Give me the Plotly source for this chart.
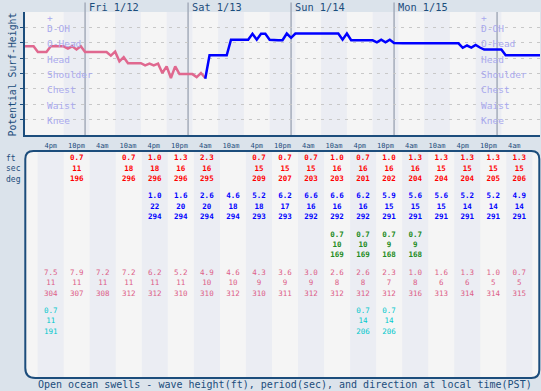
import plotly.graph_objects as go

# ---------------- data ----------------
# hour offsets relative to Fri 1/12 00:00 (PST)
pink_hours = list(range(-14, 29))
pink_surf = [5.77, 5.77, 5.77, 5.40, 5.40, 5.40, 5.77, 5.77, 5.77, 5.77,
             5.62, 5.77, 5.56, 5.77, 5.40, 5.40, 5.40, 5.40, 5.40, 5.40,
             5.16, 5.42, 4.79, 5.06, 4.67, 4.67, 4.67, 4.67, 4.53, 4.64,
             4.53, 4.64, 4.03, 4.46, 3.71, 4.46, 3.96, 3.96, 3.96, 3.96,
             3.77, 4.03, 3.71]
blue_hours = list(range(28, 107))
blue_surf = [3.66, 5.18, 5.18, 5.18, 5.18, 5.18, 6.20, 6.20, 6.20, 6.20,
             6.20, 6.58, 6.20, 6.58, 6.58, 6.20, 6.16, 6.16, 6.16, 6.60,
             6.32, 6.60, 6.60, 6.60, 6.60, 6.60, 6.60, 6.60, 6.60, 6.60,
             6.60, 6.60, 6.20, 6.60, 6.16, 6.16, 6.16, 6.16, 6.16, 6.16,
             6.03, 6.20, 6.03, 6.20, 5.99, 5.96, 5.96, 5.96, 5.96, 5.96,
             5.96, 5.96, 5.96, 5.96, 5.96, 5.96, 5.96, 5.96, 5.96, 5.96,
             5.67, 5.82, 5.69, 5.86, 5.69, 5.56, 5.56, 5.56, 5.56, 5.56,
             5.18, 5.18, 5.18, 5.18, 5.18, 5.18, 5.18, 5.18, 5.18]

surf_levels = [1, 2, 3, 4, 5, 6, 7, 7.7]
surf_names = ["Knee", "Waist", "Chest", "Shoulder", "Head", "O-Head", "D-OH", "+"]

day_hours = [0, 24, 48, 72]
day_labels = ["Fri 1/12", "Sat 1/13", "Sun 1/14", "Mon 1/15"]
extra_midnight = [96]

tick_hours = [-8 + 6 * i for i in range(20)]
tick_labels = ["4pm", "10pm", "4am", "10am"] * 5
tick_labels[-1] = "12"

top_dark_centers = [-2, 10, 22, 34, 46, 58, 70, 82, 94]

# table columns (every 6 h, 4pm Thu .. 4am Tue)
col_hours = [-8 + 6 * i for i in range(19)]
N = None
sw1_ft = [N, 0.7, N, 0.7, 1.0, 1.3, 2.3, N, 0.7, 0.7, 0.7, 1.0, 0.7, 1.0, 1.3, 1.3, 1.3, 1.3, 1.3]
sw1_sec = [N, 11, N, 18, 18, 16, 16, N, 15, 15, 15, 16, 16, 16, 16, 15, 15, 15, 15]
sw1_deg = [N, 196, N, 296, 296, 296, 295, N, 209, 207, 203, 203, 201, 202, 204, 204, 204, 205, 206]

sw2_ft = [N, N, N, N, 1.0, 1.6, 2.6, 4.6, 5.2, 6.2, 6.6, 6.6, 6.2, 5.9, 5.6, 5.6, 5.2, 5.2, 4.9]
sw2_sec = [N, N, N, N, 22, 20, 20, 18, 18, 17, 16, 16, 16, 15, 15, 15, 14, 14, 14]
sw2_deg = [N, N, N, N, 294, 294, 294, 294, 293, 293, 292, 292, 292, 291, 291, 291, 291, 291, 291]

sw3_ft = [N] * 11 + [0.7, 0.7, 0.7, 0.7] + [N] * 4
sw3_sec = [N] * 11 + [10, 10, 9, 9] + [N] * 4
sw3_deg = [N] * 11 + [169, 169, 168, 168] + [N] * 4

sw4_ft = [7.5, 7.9, 7.2, 7.2, 6.2, 5.2, 4.9, 4.6, 4.3, 3.6, 3.0, 2.6, 2.6, 2.3, 1.0, 1.6, 1.3, 1.0, 0.7]
sw4_sec = [11, 11, 11, 11, 11, 11, 10, 10, 9, 9, 9, 8, 8, 7, 8, 6, 6, 5, 5]
sw4_deg = [304, 307, 308, 312, 312, 310, 310, 312, 310, 311, 312, 312, 312, 312, 316, 313, 314, 314, 315]

sw5_ft = [0.7] + [N] * 11 + [0.7, 0.7] + [N] * 5
sw5_sec = [11] + [N] * 11 + [14, 14] + [N] * 5
sw5_deg = [191] + [N] * 11 + [206, 206] + [N] * 5

caption = "Open ocean swells - wave height(ft), period(sec), and direction at local time(PST)"

# ---------------- style / layout ----------------
W, H = 541, 391
ML, MR, MT, MB = 25, 1, 12, 13
PW = W - ML - MR
PH = H - MT - MB


def fx(px):
    return (px - ML) / PW


def fy(py):
    return (H - MB - py) / PH


MONO = "DejaVu Sans Mono"
DB = "#1c4d7c"
PAGE = "#dbe3eb"
LIGHT = "#f5f5f5"
DARK = "#ebedf3"
PINK = "#e0688f"
BLUE = "#0000ff"
LAB = "#a9a9ee"

top_dom = [fy(135), 1]
tab_dom = [0, fy(150)]

fig = go.Figure()

fig.add_trace(go.Scatter(x=pink_hours, y=pink_surf, mode="lines",
                         line=dict(color=PINK, width=2.5), xaxis="x", yaxis="y",
                         hoverinfo="skip"))
fig.add_trace(go.Scatter(x=blue_hours, y=blue_surf, mode="lines",
                         line=dict(color=BLUE, width=2.5), xaxis="x", yaxis="y",
                         hoverinfo="skip"))


def row_y(g, k):
    return 8.3 + 38.2 * g + 10.4 * k


groups = [
    (sw1_ft, sw1_sec, sw1_deg, "#ff0000", "bold"),
    (sw2_ft, sw2_sec, sw2_deg, "#0000ff", "bold"),
    (sw3_ft, sw3_sec, sw3_deg, "#228b22", "bold"),
    (sw4_ft, sw4_sec, sw4_deg, "#dd6088", "normal"),
    (sw5_ft, sw5_sec, sw5_deg, "#00c8cc", "normal"),
]
for g, (ft, sec, deg, col, wt) in enumerate(groups):
    for k, arr in enumerate([ft, sec, deg]):
        xs, ts = [], []
        for h, v in zip(col_hours, arr):
            if v is None:
                continue
            xs.append(h)
            ts.append(f"{v:.1f}" if k == 0 else f"{v:d}")
        fig.add_trace(go.Scatter(x=xs, y=[row_y(g, k)] * len(xs), text=ts, mode="text",
                                 textposition="middle center",
                                 textfont=dict(family=MONO, size=7.5, color=col, weight=wt),
                                 xaxis="x2", yaxis="y2", hoverinfo="skip"))

shapes = []
# top chart background
shapes.append(dict(type="rect", xref="paper", yref="paper", x0=0, x1=1, y0=top_dom[0], y1=1,
                   fillcolor=LIGHT, line=dict(width=0), layer="below"))
for c in top_dark_centers:
    shapes.append(dict(type="rect", xref="x", yref="paper", x0=c - 3, x1=c + 3,
                       y0=top_dom[0], y1=1, fillcolor=DARK, line=dict(width=0), layer="below"))
for d in day_hours:
    shapes.append(dict(type="line", xref="x", yref="paper", x0=d, x1=d, y0=top_dom[0], y1=fy(2.5),
                       line=dict(color="#a4acba", width=1.5), layer="below"))
for d in extra_midnight:
    shapes.append(dict(type="line", xref="x", yref="paper", x0=d, x1=d, y0=top_dom[0], y1=1,
                       line=dict(color="#a4acba", width=1.5), layer="below"))

# table
L, T, R, B = 25.3, 151, 539.3, 378
rtl, rtr, rbr, rbl = 8, 8, 8, 10
path = (f"M {fx(L)},{fy(T + rtl)} Q {fx(L)},{fy(T)} {fx(L + rtl)},{fy(T)} "
        f"L {fx(R - rtr)},{fy(T)} Q {fx(R)},{fy(T)} {fx(R)},{fy(T + rtr)} "
        f"L {fx(R)},{fy(B - rbr)} Q {fx(R)},{fy(B)} {fx(R - rbr)},{fy(B)} "
        f"L {fx(L + rbl)},{fy(B)} Q {fx(L)},{fy(B)} {fx(L)},{fy(B - rbl)} Z")
shapes.append(dict(type="path", xref="paper", yref="paper", path=path,
                   fillcolor=LIGHT, line=dict(width=0), layer="below"))
for c in col_hours[0::2]:
    shapes.append(dict(type="rect", xref="x2", yref="paper", x0=c - 3, x1=c + 3,
                       y0=fy(377), y1=fy(152), fillcolor=DARK, line=dict(width=0), layer="below"))
shapes.append(dict(type="path", xref="paper", yref="paper", path=path,
                   fillcolor="rgba(0,0,0,0)", line=dict(color=DB, width=2), layer="below"))

annotations = []
for lx in [-9.34, 91.86]:
    for v, name in zip(surf_levels, surf_names):
        annotations.append(dict(x=lx, y=v - 0.07, xref="x", yref="y", text=name, showarrow=False,
                                xanchor="left", yanchor="middle",
                                font=dict(family=MONO, size=9.5, color=LAB)))
for d, lab in zip(day_hours, day_labels):
    annotations.append(dict(x=d + 0.35, y=fy(7.3), xref="x", yref="paper", text=lab, showarrow=False,
                            xanchor="left", yanchor="middle",
                            font=dict(family=MONO, size=10.3, color=DB)))
annotations.append(dict(x=fx(12), y=fy(74.5), xref="paper", yref="paper", text="Potential Surf-Height",
                        textangle=-90, showarrow=False, xanchor="center", yanchor="middle",
                        font=dict(family=MONO, size=9.8, color=DB)))
for k, lab in enumerate(["ft", "sec", "deg"]):
    annotations.append(dict(x=fx(4), y=row_y(0, k), xref="paper", yref="y2", text=lab, showarrow=False,
                            xanchor="left", yanchor="middle",
                            font=dict(family=MONO, size=8, color=DB)))
annotations.append(dict(x=fx(285), y=fy(385), xref="paper", yref="paper", text=caption, showarrow=False,
                        xanchor="center", yanchor="middle",
                        font=dict(family=MONO, size=10, color=DB)))

fig.update_layout(
    width=W, height=H,
    margin=dict(l=ML, r=MR, t=MT, b=MB, pad=0),
    paper_bgcolor=PAGE, plot_bgcolor="rgba(0,0,0,0)",
    showlegend=False, hovermode=False,
    xaxis=dict(domain=[0, 1], range=[-14, 106], anchor="y", showline=True, linecolor=DB,
               linewidth=2, showgrid=False, zeroline=False, tickmode="array",
               tickvals=tick_hours, ticktext=tick_labels, ticks="",
               tickfont=dict(family=MONO, size=7, color=DB), ticklabelstandoff=3,
               fixedrange=True),
    yaxis=dict(domain=top_dom, range=[0, 8], anchor="x", showline=True, linecolor=DB,
               linewidth=2, ticks="outside", ticklen=3, tickcolor=DB, tickwidth=1,
               tickvals=[1, 2, 3, 4, 5, 6, 7], showticklabels=False,
               showgrid=True, gridcolor="#c8c8c8", griddash="3px,5px", gridwidth=1,
               zeroline=False, fixedrange=True),
    xaxis2=dict(domain=[0, 1], range=[-13.92, 104.77], anchor="y2", visible=False, fixedrange=True),
    yaxis2=dict(domain=tab_dom, range=[228, 0], anchor="x2", visible=False, fixedrange=True),
    shapes=shapes,
    annotations=annotations,
)

fig.write_html("out.html", config={"displayModeBar": False},
               post_script="document.body.style.margin='0';document.body.style.padding='0';"
                           "document.body.style.overflow='hidden';")
